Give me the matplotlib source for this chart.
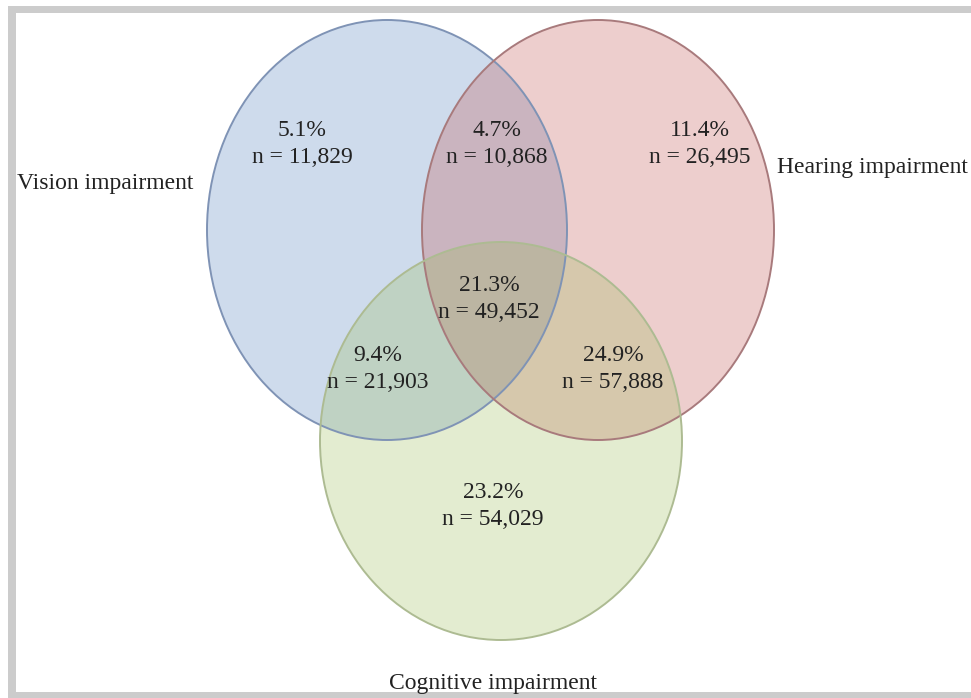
import matplotlib.pyplot as plt
from matplotlib.patches import Ellipse, Rectangle

# Datos del diagrama de Venn
conjuntos = ['Vision impairment', 'Hearing impairment', 'Cognitive impairment']
regiones = ['V', 'VH', 'H', 'VHC', 'VC', 'HC', 'C']
porcentajes = [5.1, 4.7, 11.4, 21.3, 9.4, 24.9, 23.2]
conteos = [11829, 10868, 26495, 49452, 21903, 57888, 54029]

# Geometria (en pixeles de la imagen)
elipses = {
    'Vision impairment': ((387, 230), 360, 420, '#4f81bd', '#7f93b5'),
    'Hearing impairment': ((598, 230), 352, 420, '#c0504d', '#a87a7c'),
    'Cognitive impairment': ((501, 441), 362, 398, '#9bbb59', '#adbb92'),
}
pos_regiones = {
    'V': (302, 144), 'VH': (497, 144), 'H': (700, 144),
    'VHC': (489, 299), 'VC': (378, 369), 'HC': (613, 369), 'C': (493, 506),
}
pos_etiquetas = {
    'Vision impairment': (17, 183, 'left'),
    'Hearing impairment': (777, 168, 'left'),
    'Cognitive impairment': (493, 683, 'center'),
}

plt.rcParams['font.family'] = ['Liberation Serif', 'DejaVu Serif']

fig = plt.figure(figsize=(9.71, 6.98), dpi=100)
ax = fig.add_axes([0, 0, 1, 1])
ax.set_xlim(0, 971)
ax.set_ylim(698, 0)
ax.axis('off')

# Marco gris
ax.add_patch(Rectangle((8, 6), 8, 692, color='#cccccc', lw=0))
ax.add_patch(Rectangle((8, 6), 963, 7, color='#cccccc', lw=0))
ax.add_patch(Rectangle((8, 692), 963, 6, color='#cccccc', lw=0))

# Rellenos
for nombre in conjuntos:
    centro, ancho, alto, relleno, borde = elipses[nombre]
    ax.add_patch(Ellipse(centro, ancho, alto, facecolor=relleno,
                         alpha=0.28, lw=0))
# Bordes
for nombre in conjuntos:
    centro, ancho, alto, relleno, borde = elipses[nombre]
    ax.add_patch(Ellipse(centro, ancho, alto, facecolor='none',
                         edgecolor=borde, lw=1.4))

# Textos de las regiones
for reg, pct, n in zip(regiones, porcentajes, conteos):
    x, y = pos_regiones[reg]
    ax.text(x, y, f'{pct}%\nn = {n:,}', ha='center', va='center',
            fontsize=17, color='#222222', linespacing=1.35)

# Etiquetas de los conjuntos
for nombre in conjuntos:
    x, y, ha = pos_etiquetas[nombre]
    ax.text(x, y, nombre, ha=ha, va='center', fontsize=17, color='#222222')

fig.savefig('out.png', dpi=100)
